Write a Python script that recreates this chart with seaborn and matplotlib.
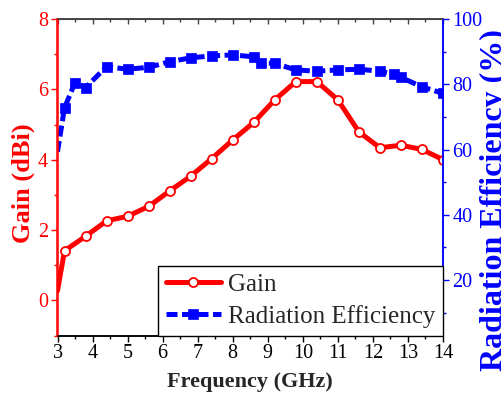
import matplotlib
matplotlib.use("Agg")
import matplotlib.pyplot as plt
from matplotlib.ticker import MultipleLocator
import seaborn as sns

# Measured antenna gain (dBi) versus frequency (GHz)
freq_gain = [3.0, 3.2, 3.8, 4.4, 5.0, 5.6, 6.2, 6.8, 7.4, 8.0, 8.6, 9.2,
             9.8, 10.4, 11.0, 11.6, 12.2, 12.8, 13.4, 14.0]
gain_dbi = [0.27, 1.41, 1.82, 2.26, 2.39, 2.67, 3.11, 3.53, 4.03, 4.56, 5.06,
            5.70, 6.22, 6.22, 5.70, 4.79, 4.34, 4.41, 4.29, 4.00]

# Radiation efficiency (%) versus frequency (GHz)
freq_eff = [3.0, 3.2, 3.5, 3.8, 4.4, 5.0, 5.6, 6.2, 6.8, 7.4, 8.0, 8.6, 8.8,
            9.2, 9.8, 10.4, 11.0, 11.6, 12.2, 12.6, 12.8, 13.4, 14.0]
efficiency_pct = [59.3, 72.8, 80.5, 79.0, 85.4, 84.6, 85.2, 86.9, 88.1, 88.7,
                  89.0, 88.4, 86.6, 86.4, 84.4, 84.0, 84.4, 84.6, 84.0, 83.1,
                  82.1, 79.2, 77.2]

sns.set_style("ticks")
plt.rcParams["font.family"] = ["Liberation Serif", "DejaVu Serif"]

W, H = 502, 394
fig = plt.figure(figsize=(W / 100, H / 100), dpi=100)
x0, x1, y0, y1 = 57.5, 443.0, 19.0, 335.5
ax = fig.add_axes([x0 / W, 1 - y1 / H, (x1 - x0) / W, (y1 - y0) / H])
ax2 = ax.twinx()

sns.lineplot(x=freq_gain, y=gain_dbi, ax=ax, color="red", linewidth=3.6,
             marker="o", markersize=6.5, markerfacecolor="white",
             markeredgecolor="red", markeredgewidth=1.3,
             markevery=list(range(1, len(freq_gain))), legend=False)
sns.lineplot(x=freq_eff, y=efficiency_pct, ax=ax2, color="blue", linewidth=3.6,
             marker="s", markersize=7.2, markerfacecolor="blue",
             markeredgecolor="blue", markeredgewidth=0.5,
             markevery=list(range(1, len(freq_eff))), legend=False)

gain_line = ax.lines[0]
eff_line = ax2.lines[0]
eff_line.set_linestyle((0, (2.2, 0.9)))
gain_line.set_markeredgecolor("red")
gain_line.set_markerfacecolor("white")
eff_line.set_markeredgecolor("blue")

ax.set_xlim(3, 14)
ax.set_ylim(-1, 8)
ax2.set_ylim(3, 100)

ax.xaxis.set_major_locator(MultipleLocator(1))
ax.xaxis.set_minor_locator(MultipleLocator(0.5))
ax.yaxis.set_major_locator(MultipleLocator(2))
ax.yaxis.set_minor_locator(MultipleLocator(1))
ax2.yaxis.set_major_locator(MultipleLocator(20))
ax2.yaxis.set_minor_locator(MultipleLocator(10))

tick_fs = 14.5
ax.tick_params(axis="x", which="major", direction="out", length=4.3, width=1,
               colors="black", labelsize=tick_fs, pad=2)
ax.tick_params(axis="x", which="minor", direction="out", length=2.5, width=1,
               colors="black")
ax.tick_params(axis="y", which="major", direction="out", length=4.3, width=1,
               colors="red", labelsize=tick_fs, pad=2.5)
ax.tick_params(axis="y", which="minor", direction="out", length=2.5, width=1,
               colors="red")
ax2.tick_params(axis="y", which="major", direction="out", length=4.3, width=1,
                colors="blue", labelsize=tick_fs, pad=2.5)
ax2.tick_params(axis="y", which="minor", direction="out", length=2.5, width=1,
                colors="blue")

# Inward ticks along the top edge
top = ax.secondary_xaxis("top")
top.xaxis.set_major_locator(MultipleLocator(1))
top.xaxis.set_minor_locator(MultipleLocator(0.5))
top.tick_params(axis="x", which="major", direction="in", length=3.5, width=1,
                colors="#444444", labeltop=False)
top.tick_params(axis="x", which="minor", direction="in", length=2.5, width=1,
                colors="#444444")
top.spines["top"].set_color("#444444")

for a in (ax, ax2):
    a.spines["left"].set_color("red")
    a.spines["right"].set_color("blue")
    a.spines["bottom"].set_color("black")
    a.spines["top"].set_color("#444444")
    for s in a.spines.values():
        s.set_linewidth(1.1)

ax.set_xlabel("Frequency (GHz)", fontsize=16, fontweight="bold", labelpad=6)
ax.set_ylabel("Gain (dBi)", fontsize=19, fontweight="bold", color="red")
ax.yaxis.set_label_coords(-0.059, 0.482)
ax2.set_ylabel("Radiation Efficiency (%)", fontsize=23, fontweight="bold",
               color="blue")
ax2.yaxis.set_label_coords(1.096, 0.428)

leg = ax2.legend([gain_line, eff_line], ["Gain", "Radiation Efficiency"],
                 loc="lower right", bbox_to_anchor=(1, 0), borderaxespad=0,
                 fontsize=18, handlelength=2.2, handletextpad=0.3,
                 borderpad=0.3, labelspacing=0.36, fancybox=False,
                 framealpha=1, edgecolor="black")
leg.get_frame().set_linewidth(1.0)

fig.savefig("out.png", dpi=100)
